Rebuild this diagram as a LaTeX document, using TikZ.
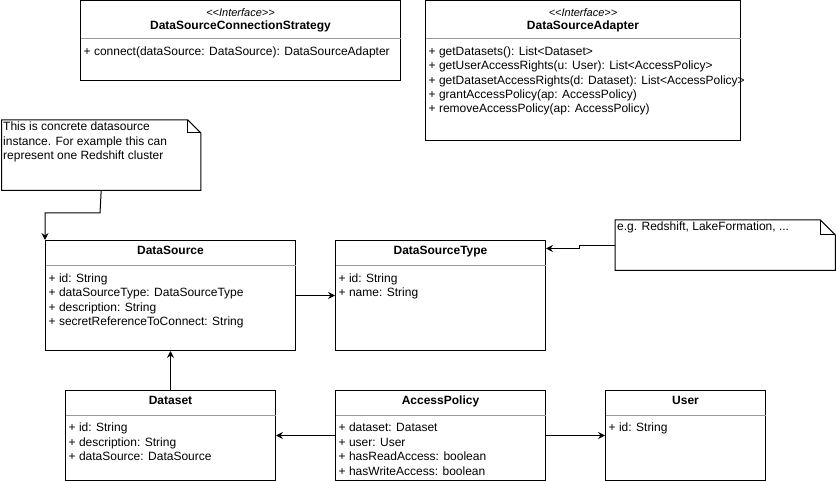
\documentclass[tikz,border=0pt]{standalone}
\usepackage{fontspec}
\setmainfont{Liberation Sans}[Ligatures=TeXOff]
\usetikzlibrary{arrows.meta}

\definecolor{sepgray}{RGB}{153,153,153}

\tikzset{
  classbox/.style={draw, line width=1pt, anchor=north west, inner sep=0pt},
  sepline/.style={draw=sepgray, line width=1pt},
  member/.style={anchor=base west, inner sep=0pt, font=\fontsize{12}{14.4}\selectfont},
  classtitle/.style={anchor=base, inner sep=0pt, font=\fontsize{12}{14.4}\selectfont\bfseries},
  stereo/.style={anchor=base, inner sep=0pt, font=\fontsize{11}{13}\selectfont\itshape},
  notebox/.style={anchor=north west, inner sep=0pt},
  noteline/.style={line width=1pt, line join=miter},
  arr/.style={line width=1pt, -{Stealth[length=7pt,width=7pt,inset=2.5pt]}},
}

% class frame: name, x, y, width, height, header height
\newcommand\umlclass[6]{%
  \node[classbox, minimum width=#4pt, minimum height=#5pt] (#1) at (#2,#3) {};
  \draw[sepline] ([xshift=0.5pt,yshift=-#6pt]#1.north west) -- ([xshift=-0.5pt,yshift=-#6pt]#1.north east);
}
% member lines: node, header height, list of lines
\newcommand\umlmembers[3]{%
  \foreach \m [count=\i from 0] in {#3}{%
    \pgfmathsetmacro\yy{#2+16.8+14.4*\i}
    \node[member] at ([xshift=3.5pt,yshift=-\yy pt]#1.north west) {\m};
  }%
}
% note frame with folded corner: name, fold size
\newcommand\umlnotefold[2]{%
  \draw[noteline] (#1.north west) -- ([xshift=-#2pt]#1.north east) -- ([yshift=-#2pt]#1.north east)
    -- (#1.south east) -- (#1.south west) -- cycle;
  \draw[noteline] ([xshift=-#2pt]#1.north east) -- ([xshift=-#2pt,yshift=-#2pt]#1.north east)
    -- ([yshift=-#2pt]#1.north east);
}

\begin{document}
\begin{tikzpicture}[x=1pt, y=-1pt]
\useasboundingbox (0,0) rectangle (836,481);

% interfaces
\umlclass{strategy}{80}{0.5}{320}{79.5}{38}
\node[stereo] at ([yshift=-16.3pt]strategy.north) {<<Interface>>};
\node[classtitle] at ([yshift=-29pt]strategy.north) {DataSourceConnectionStrategy};
\umlmembers{strategy}{38}{{+ connect(dataSource: DataSource): DataSourceAdapter}}

\umlclass{adapter}{425}{0.5}{315}{139.5}{38}
\node[stereo] at ([yshift=-16.3pt]adapter.north) {<<Interface>>};
\node[classtitle] at ([yshift=-29pt]adapter.north) {DataSourceAdapter};
\umlmembers{adapter}{38}{{+ getDatasets(): List<Dataset>},
  {+ getUserAccessRights(u: User): List<AccessPolicy>},
  {+ getDatasetAccessRights(d: Dataset): List<AccessPolicy>},
  {+ grantAccessPolicy(ap: AccessPolicy)},
  {+ removeAccessPolicy(ap: AccessPolicy)}}

% classes
\umlclass{ds}{45}{240}{250}{110}{25.5}
\node[classtitle] at ([yshift=-14.6pt]ds.north) {DataSource};
\umlmembers{ds}{25.5}{{+ id: String},{+ dataSourceType: DataSourceType},
  {+ description: String},{+ secretReferenceToConnect: String}}

\umlclass{dst}{335}{240}{210}{110}{25.5}
\node[classtitle] at ([yshift=-14.6pt]dst.north) {DataSourceType};
\umlmembers{dst}{25.5}{{+ id: String},{+ name: String}}

\umlclass{dataset}{65}{390}{210}{90}{25}
\node[classtitle] at ([yshift=-14.8pt]dataset.north) {Dataset};
\umlmembers{dataset}{25}{{+ id: String},{+ description: String},{+ dataSource: DataSource}}

\umlclass{ap}{335}{390}{210}{90}{25}
\node[classtitle] at ([yshift=-14.8pt]ap.north) {AccessPolicy};
\umlmembers{ap}{25}{{+ dataset: Dataset},{+ user: User},
  {+ hasReadAccess: boolean},{+ hasWriteAccess: boolean}}

\umlclass{user}{605}{390}{160}{90}{25}
\node[classtitle] at ([yshift=-14.8pt]user.north) {User};
\umlmembers{user}{25}{{+ id: String}}

% notes
\node[notebox, minimum width=199pt, minimum height=70pt] (note1) at (1.5,120) {};
\umlnotefold{note1}{13}
\foreach \t [count=\i from 0] in {{This is concrete datasource},
  {instance. For example this can},{represent one Redshift cluster}}{%
  \pgfmathsetmacro\yy{11+14.5*\i}
  \node[member] at ([xshift=1.5pt,yshift=-\yy pt]note1.north west) {\t};
}

\node[notebox, minimum width=220pt, minimum height=50pt] (note2) at (615,220) {};
\umlnotefold{note2}{15}
\node[member] (note2text) at ([xshift=2pt,yshift=-11pt]note2.north west) {e.g. Redshift, LakeFormation, ...};

% connectors
\coordinate (b1) at (100,213);
\draw[arr] (note1.south) -- (b1) -| (ds.north west);
\draw[arr] (ds.east) -- (ds.east -| dst.west);
\coordinate (j2) at (579,248.5);
\draw[arr] (note2.west) -| (j2) -- (j2 -| dst.east);
\draw[arr] (dataset.north) -- (ds.south);
\draw[arr] (ap.west) -- (dataset.east);
\draw[arr] (ap.east) -- (user.west);
\end{tikzpicture}
\end{document}
